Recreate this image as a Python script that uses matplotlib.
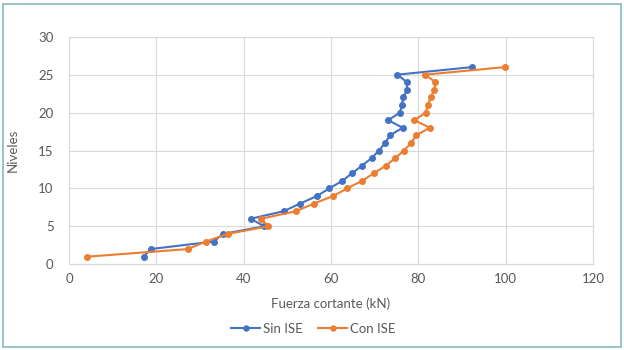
import matplotlib
matplotlib.use("Agg")
import matplotlib.pyplot as plt
from matplotlib.patches import Rectangle

levels = list(range(1, 27))
sin_ise = [17.1, 18.7, 33.1, 35.3, 44.7, 41.6, 49.2, 52.9, 56.8, 59.6, 62.6, 64.8, 67.1,
           69.3, 71.0, 72.4, 73.5, 76.4, 73.1, 75.8, 76.2, 76.6, 77.4, 77.4, 75.2, 92.3]
con_ise = [4.2, 27.2, 31.4, 36.3, 45.6, 44.0, 52.0, 56.1, 60.5, 63.7, 67.1, 69.8, 72.6,
           74.7, 76.7, 78.4, 79.5, 82.6, 79.1, 81.7, 82.2, 82.8, 83.7, 83.9, 81.6, 99.8]
series_names = ["Sin ISE", "Con ISE"]
x_ticks = [0, 20, 40, 60, 80, 100, 120]
y_ticks = [0, 5, 10, 15, 20, 25, 30]

plt.rcParams['font.family'] = ['Lato', 'DejaVu Sans']
txt = '#595959'

fig = plt.figure(figsize=(6.24, 3.5), dpi=100)
fig.patches.append(Rectangle((2.5/624, 3/350), 618/624, 343/350, transform=fig.transFigure,
                             fill=False, edgecolor='#8DBFC0', linewidth=1.3))
ax = fig.add_axes([69/624, 0.245, (593-69)/624, 0.895-0.245])

ax.plot(sin_ise, levels, color='#4472C4', marker='o', markersize=4, linewidth=1.5, label=series_names[0])
ax.plot(con_ise, levels, color='#ED7D31', marker='o', markersize=4, linewidth=1.5, label=series_names[1])

ax.set_xlim(0, 120)
ax.set_ylim(0, 30)
ax.set_xticks(x_ticks)
ax.set_yticks(y_ticks)
ax.grid(True, color='#D9D9D9', linewidth=0.8)
ax.set_axisbelow(True)
for s in ax.spines.values():
    s.set_color('#D9D9D9')
    s.set_linewidth(0.8)
ax.tick_params(axis='x', length=0, labelsize=9.5, colors=txt, pad=6)
ax.tick_params(axis='y', length=0, labelsize=9.5, colors=txt, pad=11)
ax.set_xlabel("Fuerza cortante (kN)", fontsize=9.5, color=txt, labelpad=9)
ax.set_ylabel("Niveles", fontsize=9.5, color=txt, labelpad=14)

fig.legend(loc='center', bbox_to_anchor=(0.502, 0.06), ncol=2, frameon=False, fontsize=9.5,
           labelcolor=txt, handlelength=2.2, handletextpad=0.2, columnspacing=1.2, markerscale=0.9)

fig.savefig("out.png", dpi=100)
